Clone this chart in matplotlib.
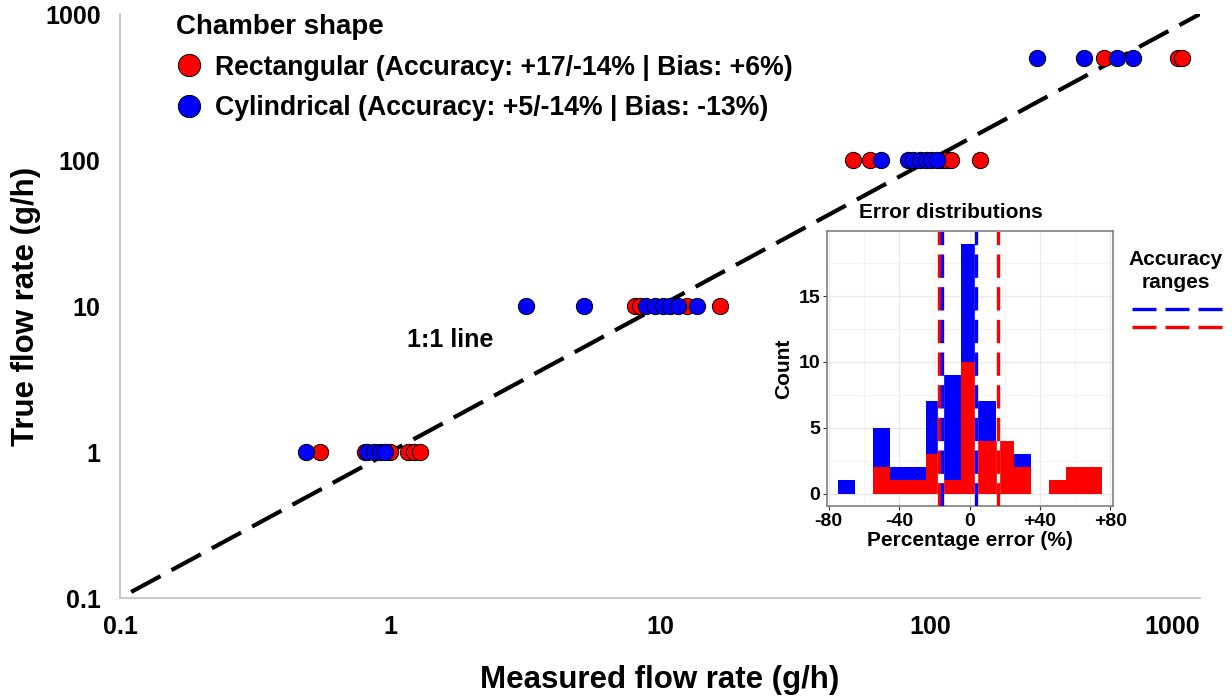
import numpy as np
import matplotlib
matplotlib.use("Agg")
import matplotlib.pyplot as plt
from matplotlib.lines import Line2D

plt.rcParams['font.family'] = ['Liberation Sans', 'DejaVu Sans']
plt.rcParams['font.weight'] = 'bold'

# ---------------- data ----------------
true_levels = [1, 10, 100, 500]
rect_measured = {
    1: [0.55, 0.81, 1.0, 1.17, 1.23, 1.29],
    10: [8.1, 8.4, 12.6, 16.7],
    100: [52, 60, 110, 115, 120, 153],
    500: [441, 831, 856],
}
cyl_measured = {
    1: [0.49, 0.82, 0.87, 0.92, 0.96],
    10: [3.2, 5.25, 8.9, 9.6, 10.3, 10.9, 11.7, 13.7],
    100: [66, 83, 86.5, 92, 97, 101, 106],
    500: [248, 372, 491, 566],
}
one_to_one = [0.11, 1000]

bin_centers = [-70, -60, -50, -40, -30, -20, -10, 0, 10, 20, 30, 40, 50, 60, 70]
rect_counts = [0, 0, 2, 1, 1, 3, 1, 10, 4, 4, 2, 0, 1, 2, 2]
cyl_counts = [1, 0, 3, 1, 1, 4, 8, 9, 3, 0, 1, 0, 0, 0, 0]
rect_range = [-17.3, 16.1]
cyl_range = [-15.7, 3.7]

main_ticks = [0.1, 1, 10, 100, 1000]
main_ticklabels = ["0.1", "1", "10", "100", "1000"]
inset_xticks = [-80, -40, 0, 40, 80]
inset_xticklabels = ["-80", "-40", "0", "+40", "+80"]
inset_yticks = [0, 5, 10, 15]

RED = "#FF0000"
BLUE = "#0000FF"

W, H = 1232, 696
fig = plt.figure(figsize=(W / 100, H / 100), dpi=100)

def fx(px):
    return px / W

def fy(py):
    return 1 - py / H

# ---------------- main axes ----------------
ax = fig.add_axes([fx(120), fy(598), fx(1200) - fx(120), fy(14) - fy(598)])
ax.set_xscale("log")
ax.set_yscale("log")
ax.set_xlim(0.1, 1000)
ax.set_ylim(0.1, 1000)
for s in ["top", "right"]:
    ax.spines[s].set_visible(False)
for s in ["left", "bottom"]:
    ax.spines[s].set_color("#bfbfbf")
    ax.spines[s].set_linewidth(1.2)
ax.tick_params(which="both", length=0, labelsize=18, pad=12)
ax.xaxis.set_minor_locator(matplotlib.ticker.NullLocator())
ax.yaxis.set_minor_locator(matplotlib.ticker.NullLocator())
ax.set_xticks(main_ticks)
ax.set_xticklabels(main_ticklabels, fontweight="bold")
ax.set_yticks(main_ticks)
ax.set_yticklabels(main_ticklabels, fontweight="bold")
ax.get_xticklabels()[-1].set_horizontalalignment("right")
ax.tick_params(axis="y", pad=14)

ax.plot(one_to_one, one_to_one, color="black", lw=3.0, dashes=(8, 3), zorder=1,
        dash_capstyle="butt")

for t in true_levels:
    xs = rect_measured[t]
    ax.scatter(xs, [t] * len(xs), s=138, color=RED, edgecolor="black", linewidths=0.7, zorder=3)
for t in true_levels:
    xs = cyl_measured[t]
    ax.scatter(xs, [t] * len(xs), s=138, color=BLUE, edgecolor="black", linewidths=0.7, zorder=4)

ax.text(1.67, 5.85, "1:1 line", fontsize=18, fontweight="bold", ha="center", va="center")

ax.set_xlabel("Measured flow rate (g/h)", fontsize=22.5, fontweight="bold", labelpad=19)
ax.set_ylabel("True flow rate (g/h)", fontsize=22.5, fontweight="bold", labelpad=3)

handles = [
    Line2D([], [], marker="o", linestyle="none", markersize=16, markerfacecolor=RED,
           markeredgecolor="black", markeredgewidth=0.7),
    Line2D([], [], marker="o", linestyle="none", markersize=16, markerfacecolor=BLUE,
           markeredgecolor="black", markeredgewidth=0.7),
]
labels = ["Rectangular (Accuracy: +17/-14% | Bias: +6%)",
          "Cylindrical (Accuracy: +5/-14% | Bias: -13%)"]
leg = ax.legend(handles, labels, title="Chamber shape", loc="upper left",
                bbox_to_anchor=(fx(176), fy(14)), bbox_transform=fig.transFigure,
                frameon=False, prop={"size": 19.2, "weight": "bold"},
                title_fontproperties={"size": 20, "weight": "bold"},
                handlelength=0.95, handletextpad=0.5, labelspacing=0.55,
                borderaxespad=0, borderpad=0)
leg._legend_box.align = "left"

# ---------------- inset ----------------
ia = fig.add_axes([fx(827), fy(506), fx(1113) - fx(827), fy(231) - fy(506)])
ia.set_xlim(-81, 81.5)
ia.set_ylim(-0.95, 19.95)
ia.set_xticks(inset_xticks)
ia.set_xticklabels(inset_xticklabels, fontweight="bold")
ia.set_yticks(inset_yticks)
ia.set_yticklabels([str(v) for v in inset_yticks], fontweight="bold")
ia.set_xticks([-60, -20, 20, 60], minor=True)
ia.set_yticks([2.5, 7.5, 12.5, 17.5], minor=True)
ia.grid(which="major", color="#ebebeb", lw=1.0)
ia.grid(which="minor", color="#f3f3f3", lw=0.8)
ia.set_axisbelow(True)
ia.tick_params(which="major", length=3, color="#333333", labelsize=14, pad=2)
ia.tick_params(which="minor", length=0)
for s in ia.spines.values():
    s.set_color("#7f7f7f")
    s.set_linewidth(1.2)

ia.bar(bin_centers, rect_counts, width=10, color=RED, zorder=2, linewidth=0)
ia.bar(bin_centers, cyl_counts, width=10, bottom=rect_counts, color=BLUE, zorder=2, linewidth=0)

for v in rect_range:
    ia.axvline(v, color="white", lw=2.4, zorder=3)
    ia.axvline(v, color=RED, lw=2.4, dashes=(7, 2.8), zorder=4)
for v in cyl_range:
    ia.axvline(v, color="white", lw=2.4, zorder=3)
    ia.axvline(v, color=BLUE, lw=2.4, dashes=(7, 2.8), zorder=4)

ia.set_xlabel("Percentage error (%)", fontsize=15, fontweight="bold", labelpad=1)
ia.set_ylabel("Count", fontsize=15, fontweight="bold", labelpad=4)
fig.text(fx(951), fy(213), "Error distributions", fontsize=15, fontweight="bold",
         ha="center", va="center")

fig.text(fx(1176), fy(271), "Accuracy\nranges", fontsize=15, fontweight="bold",
         ha="center", va="center", multialignment="center", linespacing=1.25)
acc_handles = [
    Line2D([], [], color=BLUE, lw=2.4, dashes=(7.2, 2.7)),
    Line2D([], [], color=RED, lw=2.4, dashes=(7.2, 2.7)),
]
acc = fig.legend(acc_handles, ["", ""], loc="upper center",
                 bbox_to_anchor=(fx(1177), fy(303)), frameon=False,
                 handlelength=6.5, handletextpad=0, labelspacing=0.3, borderaxespad=0,
                 borderpad=0, prop={"size": 10})

fig.savefig("out.png", dpi=100)
